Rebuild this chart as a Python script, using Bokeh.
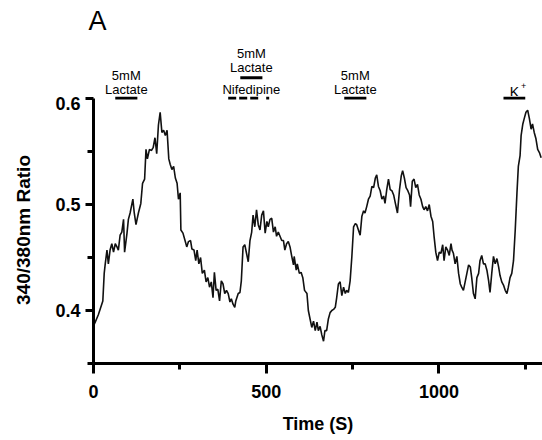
from bokeh.plotting import figure
from bokeh.models import FixedTicker, Label, Range1d
from bokeh.layouts import column
from bokeh.embed import file_html
from bokeh.resources import INLINE

# ---- data ----
time_s = [2, 5, 14, 27, 31, 34, 39, 43, 48, 53, 58, 63, 68, 72, 77, 82, 87, 90, 97, 101, 106, 114, 118, 123,
          130, 137, 142, 148, 152, 156, 162, 168, 173, 178, 183, 188, 193, 198, 203, 208, 213, 218, 222, 227,
          232, 237, 242, 246, 251,
          253, 259, 265, 270, 275, 281, 285, 291, 296, 300, 305, 310, 315, 321, 326, 331, 336, 341, 346, 350,
          355, 360, 365, 370, 375, 380, 385, 390, 395, 399, 404, 409, 412, 419, 424, 428, 433, 438, 443, 448,
          453, 458, 462, 467, 472, 477, 482, 487, 492, 497, 502, 506, 511,
          516, 521, 526, 530, 535, 540, 545, 550, 554, 559, 564, 569, 574, 579, 581, 587, 590, 596, 601, 606,
          611, 618, 622, 627, 632, 637, 642, 647, 651, 656, 661, 666, 670, 675, 680, 685, 690, 695, 700, 704,
          709, 714, 719, 724, 729, 733, 738, 743, 748, 753, 758, 762, 767,
          772, 777, 782, 786, 791, 796, 801, 806, 811, 816, 820, 825, 830, 835, 840, 844, 849, 854, 859, 864,
          869, 874, 880, 886, 891, 895, 900, 905, 910, 915, 918, 923, 928, 933, 938, 943, 948, 953, 957, 962,
          967, 972, 977, 982, 986, 991, 996, 1001, 1006, 1011, 1015, 1020, 1025, 1030,
          1035, 1038, 1042, 1047, 1052, 1057, 1062, 1066, 1071, 1076, 1081, 1086, 1091, 1095, 1100, 1105,
          1110, 1115, 1119, 1124, 1129, 1134, 1139, 1144, 1148, 1153, 1158, 1163, 1168, 1173, 1177, 1182,
          1187, 1192, 1197, 1201, 1206, 1211, 1216, 1221, 1226, 1230, 1235, 1238, 1243, 1247, 1252, 1257,
          1262, 1267, 1271, 1276, 1281, 1286, 1291, 1296]

ratio = [0.387, 0.389, 0.396, 0.409, 0.435, 0.444, 0.457, 0.444, 0.457, 0.463, 0.455, 0.463, 0.460, 0.457,
         0.471, 0.474, 0.486, 0.455, 0.473, 0.486, 0.492, 0.505, 0.492, 0.481, 0.492, 0.501, 0.520, 0.524,
         0.552, 0.543, 0.552, 0.551, 0.554, 0.563, 0.548, 0.575, 0.587, 0.568, 0.570, 0.565, 0.570, 0.543,
         0.538, 0.533, 0.536, 0.525, 0.520, 0.505, 0.511,
         0.476, 0.473, 0.466, 0.460, 0.465, 0.466, 0.458, 0.457, 0.447, 0.457, 0.444, 0.450, 0.435, 0.438,
         0.427, 0.431, 0.422, 0.427, 0.412, 0.436, 0.419, 0.420, 0.409, 0.428, 0.425, 0.416, 0.419, 0.416,
         0.408, 0.411, 0.406, 0.403, 0.409, 0.416, 0.417, 0.428, 0.460, 0.462, 0.454, 0.446, 0.466, 0.474,
         0.490, 0.479, 0.495, 0.481, 0.476, 0.490, 0.494, 0.473, 0.484, 0.479, 0.486,
         0.487, 0.474, 0.479, 0.470, 0.474, 0.470, 0.466, 0.466, 0.457, 0.463, 0.465, 0.460, 0.451, 0.443,
         0.451, 0.438, 0.444, 0.435, 0.436, 0.431, 0.419, 0.416, 0.400, 0.392, 0.384, 0.390, 0.381, 0.389,
         0.381, 0.385, 0.377, 0.371, 0.381, 0.381, 0.392, 0.398, 0.400, 0.401, 0.403, 0.412, 0.425, 0.427,
         0.414, 0.422, 0.416, 0.419, 0.417, 0.428, 0.451, 0.479, 0.482, 0.481, 0.476,
         0.471, 0.489, 0.494, 0.492, 0.498, 0.505, 0.508, 0.517, 0.516, 0.525, 0.528, 0.517, 0.513, 0.505,
         0.508, 0.501, 0.514, 0.524, 0.514, 0.513, 0.509, 0.501, 0.492, 0.514, 0.527, 0.532, 0.525, 0.516,
         0.513, 0.509, 0.498, 0.522, 0.524, 0.516, 0.519, 0.509, 0.505, 0.498, 0.495, 0.498, 0.494, 0.500,
         0.489, 0.484, 0.470, 0.455, 0.447, 0.455, 0.454, 0.462, 0.447, 0.460, 0.457, 0.452,
         0.463, 0.457, 0.454, 0.444, 0.451, 0.435, 0.425, 0.422, 0.419, 0.427, 0.435, 0.443, 0.441, 0.431,
         0.416, 0.411, 0.431, 0.435, 0.447, 0.452, 0.444, 0.444, 0.438, 0.428, 0.417, 0.435, 0.451, 0.444,
         0.449, 0.441, 0.433, 0.427, 0.424, 0.419, 0.416, 0.422, 0.431, 0.435, 0.447, 0.476, 0.511, 0.536,
         0.546, 0.565, 0.576, 0.581, 0.587, 0.589, 0.581, 0.571, 0.576, 0.568, 0.562, 0.552, 0.549, 0.544]

# treatment periods (s)
lactate_start = [63, 425, 726]
lactate_end = [127, 489, 790]
nifedipine_start = [390]
nifedipine_end = [512]
k_start = [1187]
k_end = [1250]

x_major = [0, 500, 1000]
x_minor = [250, 750, 1250]
y_major = [0.4, 0.5, 0.6]
y_minor = [0.35, 0.45, 0.55]

# ---- layout constants ----
PX_PER_UNIT = 1060.0
TOP_FRAME = 36      # window row where the annotation strip's frame starts
SPLIT = 96          # window row where the annotation strip ends and the main frame starts
FRAME_BOTTOM = 363
LEFT = 93
W, H = 542, 440
Y0 = 0.35
X_PX = 0.3454
FONT = "Liberation Sans"


def yw(win_y):
    """window pixel row -> data value"""
    return Y0 + (FRAME_BOTTOM - win_y) / PX_PER_UNIT


def xw(win_x):
    return (win_x - LEFT) / X_PX


X_END = (W - LEFT) / X_PX

# ---------------- annotation strip (top) ----------------
top = figure(width=W, height=SPLIT, x_range=Range1d(0, X_END),
             y_range=Range1d(yw(SPLIT), yw(TOP_FRAME)), x_axis_type=None, y_axis_type=None,
             min_border_left=LEFT, min_border_right=0, min_border_top=TOP_FRAME,
             min_border_bottom=0, output_backend="svg", toolbar_location=None)
top.outline_line_color = None
top.xgrid.visible = False
top.ygrid.visible = False
top.background_fill_color = "white"
top.border_fill_color = "white"

# panel letter
top.title.text = "A"
top.title.align = "left"
top.title.offset = -5
top.title.standoff = 6
top.title.text_font = FONT
top.title.text_font_size = "27px"
top.title.text_font_style = "normal"
top.title.text_color = "black"

bar_y_mid = yw(76.5)
top.segment(x0=[lactate_start[1]], x1=[lactate_end[1]], y0=bar_y_mid, y1=bar_y_mid,
            line_color="black", line_width=3)


def ann(x, wy, txt, size="13px", align="center"):
    top.add_layout(Label(x=x, y=yw(wy), text=txt, text_align=align, text_baseline="alphabetic",
                         text_font=FONT, text_font_size=size, text_color="black"))


c1 = (lactate_start[0] + lactate_end[0]) / 2
c2 = (lactate_start[1] + lactate_end[1]) / 2
c3 = (lactate_start[2] + lactate_end[2]) / 2
ann(c1, 74, "5mM"); ann(c1, 89, "Lactate")
ann(c2, 51, "5mM"); ann(c2, 66, "Lactate"); ann(c2, 89, "Nifedipine")
ann(c3, 74, "5mM"); ann(c3, 89, "Lactate")
ck = (k_start[0] + k_end[0]) / 2
ann(ck, 91, "K", size="14px")
ann(xw(520.5), 85, "+", size="9px", align="left")

# ---------------- main plot ----------------
p = figure(width=W, height=H - SPLIT, x_range=Range1d(0, X_END), y_range=Range1d(Y0, yw(SPLIT)),
           min_border_left=LEFT, min_border_right=0, min_border_top=0,
           min_border_bottom=H - FRAME_BOTTOM,
           output_backend="svg", toolbar_location=None)
p.outline_line_color = None
p.xgrid.visible = False
p.ygrid.visible = False
p.background_fill_color = "white"
p.border_fill_color = "white"

p.line(time_s, ratio, line_color="#111111", line_width=1.6)

# treatment bars (just above the 0.6 tick)
bar_y_low = yw(97.5)
p.segment(x0=[lactate_start[0], lactate_start[2], k_start[0]],
          x1=[lactate_end[0], lactate_end[2], k_end[0]],
          y0=bar_y_low, y1=bar_y_low, line_color="black", line_width=3)
p.line([nifedipine_start[0], nifedipine_end[0]], [bar_y_low, bar_y_low], line_color="black",
       line_width=3, line_dash="8 3 8 3 8 8 3 10")

for ax in (p.xaxis[0], p.yaxis[0]):
    ax.axis_line_width = 3
    ax.axis_line_color = "black"
    ax.major_tick_line_width = 3
    ax.minor_tick_line_width = 3
    ax.major_tick_line_color = "black"
    ax.minor_tick_line_color = "black"
    ax.major_tick_in = 0
    ax.minor_tick_in = 0
    ax.major_label_text_font = FONT
    ax.major_label_text_font_style = "bold"
    ax.major_label_text_font_size = "18px"
    ax.major_label_text_color = "black"
    ax.axis_label_text_font = FONT
    ax.axis_label_text_font_style = "bold"
    ax.axis_label_text_color = "black"

p.xaxis.ticker = FixedTicker(ticks=x_major, minor_ticks=x_minor)
p.yaxis.ticker = FixedTicker(ticks=y_major, minor_ticks=y_minor)
p.xaxis.bounds = (0, 1300)
p.yaxis.bounds = (0.35, 0.6)
p.xaxis.major_tick_out = 10
p.xaxis.minor_tick_out = 6
p.yaxis.major_tick_out = 8
p.yaxis.minor_tick_out = 6
p.xaxis.major_label_standoff = 11
p.yaxis.major_label_standoff = 5

p.xaxis.axis_label = "Time (S)"
p.xaxis.axis_label_standoff = 13
p.xaxis.axis_label_text_font_size = "18px"

p.yaxis.axis_label = "340/380nm Ratio"
p.yaxis.axis_label_standoff = 18
p.yaxis.axis_label_text_font_size = "19px"

layout = column(top, p, spacing=0)
open("out.html", "w").write(file_html(layout, INLINE))
